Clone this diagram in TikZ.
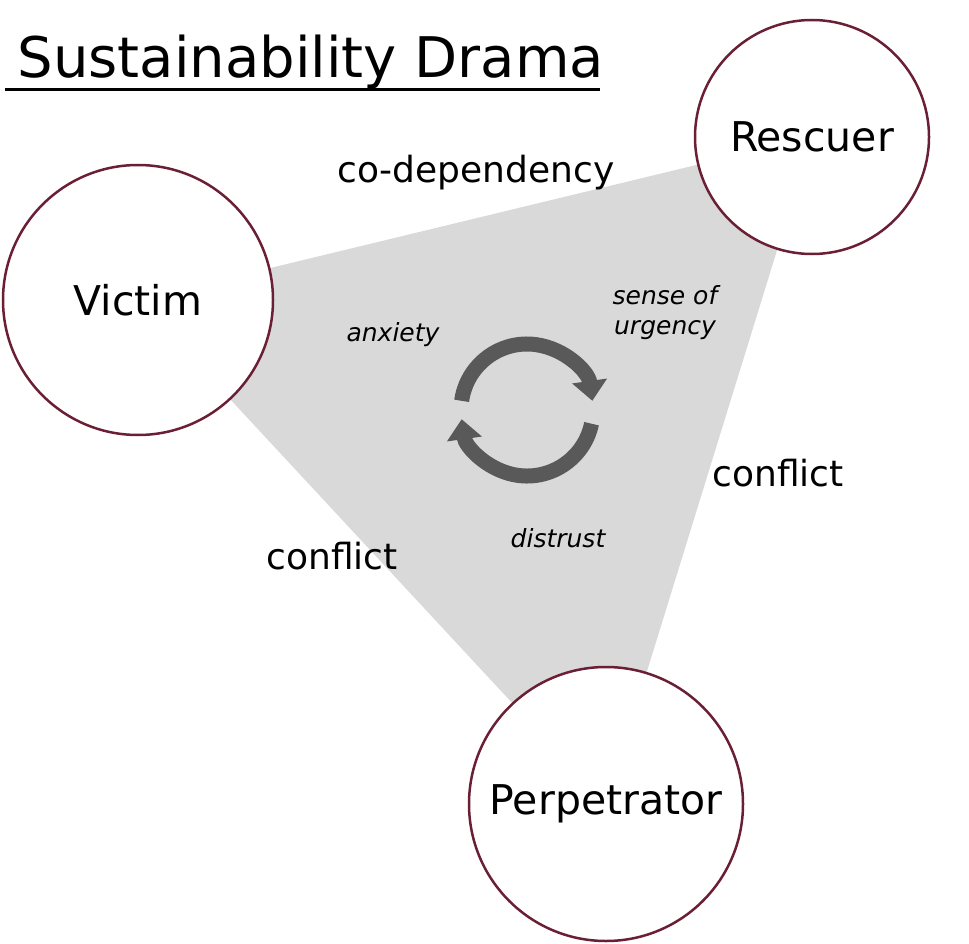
\documentclass[tikz,border=0pt]{standalone}
\usepackage{fontspec}
\setmainfont{DejaVu Sans}
\usetikzlibrary{arrows.meta}
\definecolor{ring}{HTML}{6B1F35}
\definecolor{tri}{HTML}{D9D9D9}
\definecolor{cyc}{HTML}{595959}
\begin{document}
\begin{tikzpicture}[x=1pt,y=-1pt,
  role/.style={circle,draw=ring,line width=2.5pt,fill=white,font=\fontsize{41}{46}\selectfont},
  lab/.style={font=\fontsize{36}{40}\selectfont},
  ital/.style={font=\fontsize{25}{30}\selectfont\itshape,align=center},
  cyca/.style={draw=cyc,line width=15pt,-{Triangle[width=34pt,length=20pt]}}]
\useasboundingbox (0,0) rectangle (969,944);
\coordinate (v) at (138,300);
\coordinate (r) at (812,137);
\coordinate (p) at (606,804);
\fill[tri] (v) -- (r) -- (p) -- cycle;
\node[role,minimum size=270pt] (victim) at (v) {Victim};
\node[role,minimum size=234pt] (rescuer) at (r) {Rescuer};
\node[role,minimum size=274pt] (perp) at (p) {Perpetrator};
\node[anchor=base west,font=\fontsize{56}{62}\selectfont] (title) at (14,78) {Sustainability Drama};
\draw[line width=3pt] (5,90) -- (600,90);
\node[lab] (cd) at (476,173) {co-dependency};
\node[lab] (c1) at (778,473) {conflict};
\node[lab] (c2) at (332,556) {conflict};
\node[ital] (ax) at (393,335) {anxiety};
\node[ital] (su) at (665,313) {sense of\\urgency};
\node[ital] (ds) at (558,538) {distrust};
\coordinate (cc) at (527,410);
\draw[cyca] ([shift={(188:66)}]cc) arc[start angle=188,end angle=352,radius=66];
\draw[cyca] ([shift={(12:66)}]cc) arc[start angle=12,end angle=172,radius=66];
\end{tikzpicture}
\end{document}
